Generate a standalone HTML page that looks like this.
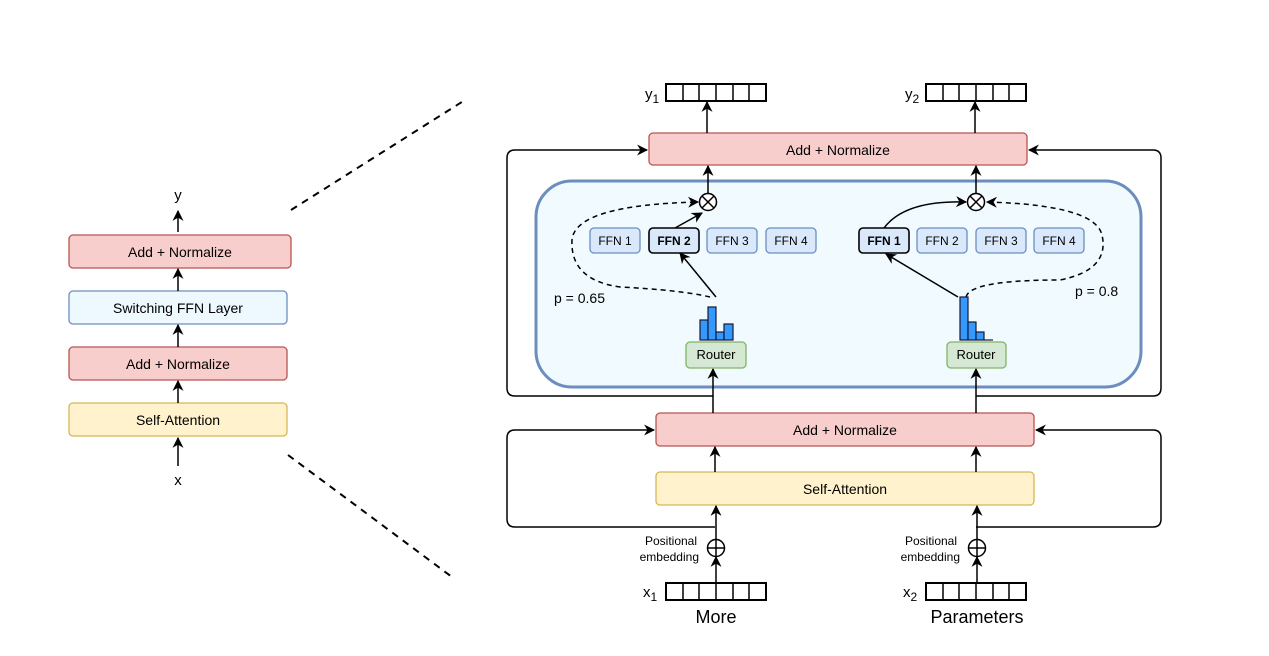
<!DOCTYPE html>
<html><head><meta charset="utf-8"><style>
html,body{margin:0;padding:0;background:#fff;}
svg{display:block;font-family:"Liberation Sans",sans-serif;}
</style></head><body>
<svg width="1269" height="656" viewBox="0 0 1269 656" xmlns="http://www.w3.org/2000/svg">
<defs>
<marker id="a" viewBox="0 0 10 10" refX="9" refY="5" markerWidth="11" markerHeight="11" markerUnits="userSpaceOnUse" orient="auto"><path d="M0,0 L10,5 L0,10 L3,5 Z" fill="#000"/></marker>
</defs>
<rect width="1269" height="656" fill="#fff"/>
<g stroke-width="1.3">
<rect x="69" y="235" width="222" height="33" rx="4" fill="#f8cecc" stroke="#b85450"/>
<rect x="69" y="291" width="218" height="33" rx="4" fill="#eef8ff" stroke="#6c8ebf"/>
<rect x="69" y="347" width="218" height="33" rx="4" fill="#f8cecc" stroke="#b85450"/>
<rect x="69" y="403" width="218" height="33" rx="4" fill="#fff2cc" stroke="#d6b656"/>
</g>
<g font-size="14" text-anchor="middle" fill="#000">
<text x="180" y="257">Add + Normalize</text>
<text x="178" y="313">Switching FFN Layer</text>
<text x="178" y="369">Add + Normalize</text>
<text x="178" y="425">Self-Attention</text>
<text x="178" y="200" font-size="15">y</text>
<text x="178" y="485" font-size="15">x</text>
</g>
<g stroke="#000" stroke-width="1.5" marker-end="url(#a)">
<line x1="178" y1="232" x2="178" y2="211"/>
<line x1="178" y1="291" x2="178" y2="269"/>
<line x1="178" y1="347" x2="178" y2="325"/>
<line x1="178" y1="403" x2="178" y2="381"/>
<line x1="178" y1="466" x2="178" y2="438"/>
</g>
<g stroke="#000" stroke-width="2" stroke-dasharray="7,6">
<line x1="291" y1="210" x2="465" y2="100"/>
<line x1="288" y1="455" x2="452" y2="577"/>
</g>

<g fill="none" stroke="#000" stroke-width="1.5">
<path d="M713,396 H515 Q507,396 507,388 V158 Q507,150 515,150 H647" marker-end="url(#a)"/>
<path d="M976,396 H1153 Q1161,396 1161,388 V158 Q1161,150 1153,150 H1029" marker-end="url(#a)"/>
<path d="M715,527 H515 Q507,527 507,519 V438 Q507,430 515,430 H654" marker-end="url(#a)"/>
<path d="M976,527 H1153 Q1161,527 1161,519 V438 Q1161,430 1153,430 H1036" marker-end="url(#a)"/>
</g>

<rect x="536" y="181" width="605" height="206" rx="36" fill="#f0faff" stroke="#6c8ebf" stroke-width="3"/>

<rect x="649" y="133" width="378" height="32" rx="4" fill="#f8cecc" stroke="#b85450" stroke-width="1.3"/>
<text x="838" y="155" font-size="14" text-anchor="middle">Add + Normalize</text>
<rect x="656" y="413" width="378" height="33" rx="4" fill="#f8cecc" stroke="#b85450" stroke-width="1.3"/>
<text x="845" y="435" font-size="14" text-anchor="middle">Add + Normalize</text>
<rect x="656" y="472" width="378" height="33" rx="4" fill="#fff2cc" stroke="#d6b656" stroke-width="1.3"/>
<text x="845" y="494" font-size="14" text-anchor="middle">Self-Attention</text>

<g fill="#fff" stroke="#000" stroke-width="2">
<rect x="666" y="84" width="100" height="17"/>
<rect x="926" y="84" width="100" height="17"/>
<rect x="666" y="583" width="100" height="17"/>
<rect x="926" y="583" width="100" height="17"/>
</g>
<g stroke="#000" stroke-width="1.5">
<path d="M683,84V101M699,84V101M716,84V101M733,84V101M749,84V101"/>
<path d="M943,84V101M959,84V101M976,84V101M993,84V101M1009,84V101"/>
<path d="M683,583V600M699,583V600M716,583V600M733,583V600M749,583V600"/>
<path d="M943,583V600M959,583V600M976,583V600M993,583V600M1009,583V600"/>
</g>
<g font-size="15">
<text x="645" y="99">y<tspan font-size="12" dy="4">1</tspan></text>
<text x="905" y="99">y<tspan font-size="12" dy="4">2</tspan></text>
<text x="643" y="597">x<tspan font-size="12" dy="4">1</tspan></text>
<text x="903" y="597">x<tspan font-size="12" dy="4">2</tspan></text>
</g>
<text x="716" y="623" font-size="18" text-anchor="middle">More</text>
<text x="977" y="623" font-size="18" text-anchor="middle">Parameters</text>
<g font-size="12" text-anchor="end">
<text x="697" y="545">Positional</text><text x="699" y="561">embedding</text>
<text x="957" y="545">Positional</text><text x="960" y="561">embedding</text>
</g>

<g stroke="#000" stroke-width="1.5" marker-end="url(#a)">
<line x1="707" y1="133" x2="707" y2="102"/>
<line x1="975" y1="133" x2="975" y2="102"/>
<line x1="708" y1="193" x2="708" y2="166"/>
<line x1="976" y1="193" x2="976" y2="166"/>
<line x1="713" y1="413" x2="713" y2="369"/>
<line x1="976" y1="413" x2="976" y2="369"/>
<line x1="715" y1="472" x2="715" y2="447"/>
<line x1="976" y1="472" x2="976" y2="447"/>
<line x1="716" y1="539" x2="716" y2="506"/>
<line x1="977" y1="539" x2="977" y2="506"/>
<line x1="716" y1="583" x2="716" y2="557"/>
<line x1="977" y1="583" x2="977" y2="557"/>
<line x1="716" y1="297" x2="680" y2="253"/>
<line x1="958" y1="297" x2="886" y2="254"/>
<line x1="675" y1="228" x2="702" y2="213"/>
<path d="M884,228 Q905,200 966,202" fill="none"/>
</g>
<g stroke="#000" stroke-width="1.5" stroke-dasharray="5,4" fill="none" marker-end="url(#a)">
<path d="M710,297 Q680,290 620,287 Q570,280 572,240 Q575,205 698,202"/>
<path d="M966,297 Q970,280 1060,280 Q1110,270 1102,235 Q1095,205 987,202"/>
</g>

<g fill="#fff" stroke="#000" stroke-width="1.5">
<circle cx="708" cy="202" r="8.5"/><path d="M702,196L714,208M714,196L702,208"/>
<circle cx="976" cy="202" r="8.5"/><path d="M970,196L982,208M982,196L970,208"/>
<circle cx="716" cy="548" r="8.5"/><path d="M707.5,548H724.5M716,539.5V556.5"/>
<circle cx="977" cy="548" r="8.5"/><path d="M968.5,548H985.5M977,539.5V556.5"/>
</g>

<g fill="#dae8fc" stroke="#6c8ebf" stroke-width="1.3">
<rect x="590" y="228" width="50" height="25" rx="4"/>
<rect x="707" y="228" width="50" height="25" rx="4"/>
<rect x="766" y="228" width="50" height="25" rx="4"/>
<rect x="917" y="228" width="50" height="25" rx="4"/>
<rect x="976" y="228" width="50" height="25" rx="4"/>
<rect x="1034" y="228" width="50" height="25" rx="4"/>
</g>
<g fill="#dae8fc" stroke="#000" stroke-width="1.6">
<rect x="649" y="228" width="50" height="25" rx="4"/>
<rect x="859" y="228" width="50" height="25" rx="4"/>
</g>
<g font-size="12" text-anchor="middle">
<text x="615" y="245">FFN 1</text>
<text x="674" y="245" font-weight="bold">FFN 2</text>
<text x="732" y="245">FFN 3</text>
<text x="791" y="245">FFN 4</text>
<text x="884" y="245" font-weight="bold">FFN 1</text>
<text x="942" y="245">FFN 2</text>
<text x="1001" y="245">FFN 3</text>
<text x="1059" y="245">FFN 4</text>
</g>
<text x="554" y="303" font-size="14">p = 0.65</text>
<text x="1075" y="296" font-size="14">p = 0.8</text>

<g fill="#3399ff" stroke="#1a1a2e" stroke-width="1.2">
<rect x="700" y="320" width="8" height="20"/>
<rect x="708" y="307" width="8" height="33"/>
<rect x="716" y="332" width="8" height="8"/>
<rect x="724" y="324" width="9" height="16"/>
<rect x="960" y="297" width="8" height="43"/>
<rect x="968" y="322" width="8" height="18"/>
<rect x="976" y="332" width="8" height="8"/>
<line x1="984" y1="340" x2="993" y2="340"/>
</g>
<g fill="#d5e8d4" stroke="#82b366" stroke-width="1.3">
<rect x="686" y="342" width="60" height="26" rx="4"/>
<rect x="947" y="342" width="59" height="26" rx="4"/>
</g>
<g font-size="13" text-anchor="middle">
<text x="716" y="359">Router</text>
<text x="976" y="359">Router</text>
</g>
</svg>
</body></html>
